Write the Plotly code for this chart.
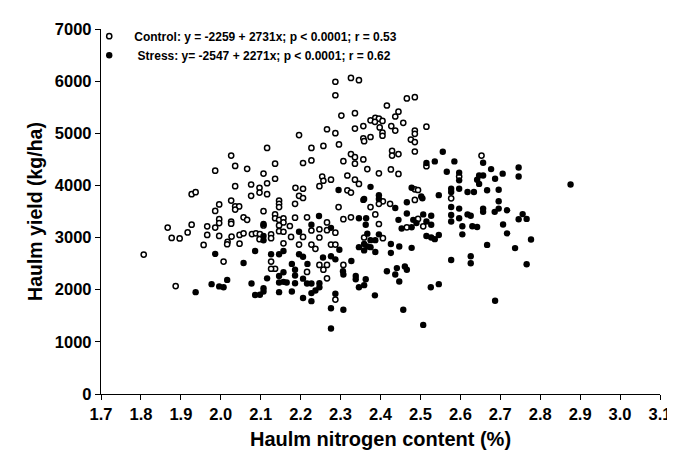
import plotly.graph_objects as go

# Control (open circles): haulm N content (%) and haulm yield (kg/ha)
control_n = [
    1.807, 1.887, 1.877, 1.897, 1.917, 1.966, 1.996, 1.957, 2.017, 2.016, 2.027, 2.047,
    2.057, 2.047, 2.007, 2.078, 2.088, 2.098, 2.097,
    2.026, 2.036, 2.066, 1.986, 2.036, 2.076, 2.076, 1.927, 1.937, 2.026, 1.996, 1.986,
    2.036, 2.046, 2.036, 2.057, 2.066, 1.996, 1.996, 2.026, 2.026, 1.867, 1.927, 1.966, 1.986,
    2.302, 2.266, 2.287, 2.336, 2.357, 2.357, 2.359, 2.196, 2.116, 2.227, 2.257, 2.296,
    2.326, 2.336, 2.336, 2.307, 2.357, 2.136, 2.206, 2.227, 2.367, 2.107, 2.136, 2.116,
    2.097, 2.097, 2.116, 2.254, 2.257, 2.247, 2.276, 2.317, 2.336, 2.346, 2.317, 2.326,
    2.187, 2.206, 2.196, 2.206, 2.186, 2.146, 2.146, 2.146, 2.107, 2.136, 2.136, 2.146,
    2.157, 2.157, 2.186, 2.216, 2.295, 2.307, 2.326, 2.266, 2.107, 2.146, 2.173,
    2.126, 2.126, 2.146, 2.157, 2.176, 2.206, 2.227, 2.247, 2.266, 2.287, 2.247, 2.196,
    2.227, 2.237, 2.276, 2.287, 2.157, 2.126, 2.136, 2.126, 2.216, 2.247, 2.257, 2.266,
    2.307, 2.266, 2.287, 2.359,
    2.287, 2.326, 2.346, 2.287, 2.336,
    2.466, 2.486, 2.416, 2.445, 2.437, 2.375, 2.387, 2.396, 2.405, 2.386, 2.457, 2.427,
    2.437, 2.398, 2.405, 2.405, 2.515, 2.375, 2.486, 2.486, 2.476, 2.486, 2.429, 2.429,
    2.445, 2.486, 2.653,
    2.396, 2.426, 2.445, 2.515, 2.486, 2.494, 2.597, 2.577, 2.486, 2.406, 2.396, 2.375,
    2.424, 2.387, 2.396, 2.494, 2.466, 2.507, 2.406,
]
control_yield = [
    2674, 2070, 2994, 2983, 3099, 3050, 3031, 2859, 2920, 2872, 3020, 3050,
    3081, 2883, 2539, 3068, 3081, 3068, 2970,
    4572, 4374, 4319, 4282, 3986, 4018, 3801, 3833, 3870, 3709, 3635, 3511,
    3598, 3598, 3537, 3389, 3340, 3352, 3278, 3308, 3265, 3191, 3247, 3216, 3191,
    5340, 5077, 5003, 5090, 5138, 4905, 4849, 4966, 4720, 4720, 4757, 4786,
    4602, 4541, 4417, 4465, 4498, 4417, 4430, 4480, 4313, 4227, 4128, 4042,
    3955, 3862, 3833, 4171, 4090, 3986, 4110, 4190, 4110, 4029, 3907, 3862,
    3955, 3936, 3801, 3759, 3648, 3709, 3648, 3585, 3506, 3444, 3371, 3340,
    3371, 3290, 3382, 3389, 3585, 3352, 3389, 3290, 3232, 3232, 3222,
    3062, 2988, 3123, 3112, 3012, 3012, 3136, 3160, 3142, 3093, 3001, 2865,
    2865, 2785, 2865, 2865, 2890, 2539, 2402, 2402, 2341, 2476, 2384, 2476,
    2476, 2218, 1811, 3001,
    5988, 6061, 6019, 5729, 5385,
    5668, 5692, 5533, 5415, 5322, 5248, 5298, 5280, 5237, 5219, 5200, 5138,
    5052, 5113, 5015, 4953, 5127, 4929, 5052, 4990, 4879, 4831, 4664, 4572,
    4602, 4651, 4572,
    4232, 4306, 4221, 4369, 3925, 3912, 4171, 3752, 3722, 3696, 3648, 3585,
    3648, 3444, 3260, 3358, 3197, 3216, 2988,
]

# Stress (filled circles)
stress_n = [
    1.986, 2.086, 2.057, 1.977, 1.996, 2.007, 2.016, 1.937, 2.077, 2.086, 2.098, 2.107,
    2.107, 2.116, 2.107, 2.107,
    2.295, 2.357, 2.246, 2.346, 2.364, 2.227, 2.276, 2.107,
    2.196, 2.126, 2.146, 2.157, 2.196, 2.206, 2.256, 2.276, 2.287, 2.297, 2.346, 2.359,
    2.367, 2.178, 2.217, 2.186, 2.186, 2.157, 2.146, 2.157, 2.165, 2.146, 2.186, 2.206,
    2.216, 2.227, 2.247, 2.247, 2.237, 2.227, 2.306, 2.307, 2.327, 2.338, 2.338, 2.363,
    2.346, 2.359, 2.146, 2.178, 2.206, 2.227, 2.287, 2.276, 2.307, 2.276,
    2.556, 2.536, 2.585, 2.515, 2.566, 2.597, 2.597, 2.642, 2.375, 2.478, 2.502, 2.505,
    2.546, 2.577, 2.577, 2.597, 2.618, 2.634, 2.359, 2.396, 2.396, 2.437, 2.466, 2.577,
    2.597, 2.577, 2.597, 2.618, 2.626, 2.577, 2.605, 2.630, 2.605, 2.363, 2.466, 2.507,
    2.527, 2.445, 2.482, 2.490, 2.515, 2.527, 2.478, 2.453, 2.515, 2.527, 2.536, 2.546,
    2.367, 2.375, 2.387, 2.396, 2.359, 2.375, 2.387, 2.426, 2.426, 2.447, 2.478, 2.416,
    2.441, 2.461, 2.466, 2.577, 2.626, 2.626,
    2.437, 2.447, 2.386, 2.526, 2.546, 2.457, 2.507,
    2.657, 2.677, 2.746, 2.746, 2.706, 2.687, 2.647, 2.657, 2.647, 2.876, 2.667, 2.696,
    2.696, 2.657, 2.657, 2.686, 2.696, 2.717, 2.756, 2.746, 2.766, 2.642, 2.707, 2.717,
    2.667, 2.737, 2.777, 2.766, 2.687,
]
stress_yield = [
    2687, 2742, 2513, 2107, 2064, 2046, 2188, 1953, 2120, 1898, 1903, 1966,
    2027, 2218, 3031, 2950,
    3912, 3722, 3413, 3371, 3371, 3247, 3186, 3260,
    3112, 2680, 2680, 2742, 2680, 2632, 2619, 2643, 2582, 2767, 2816, 2754,
    2828, 2495, 2495, 2384, 2273, 2336, 2262, 2151, 2138, 2138, 2125, 2212,
    2120, 2120, 2125, 2046, 1985, 1935, 2354, 2292, 2550, 2262, 2200, 2200,
    2046, 2088, 1953, 1966, 1842, 1781, 1922, 1645, 1615, 1257,
    4645, 4461, 4461, 4430, 4263, 4245, 4097, 4110, 3973, 3955, 3788, 3752,
    3814, 3936, 3875, 3936, 3875, 3875, 3740, 3814, 3740, 3567, 3678, 3585,
    3556, 3432, 3371, 3444, 3419, 3308, 3216, 3216, 3062, 3247, 3463, 3444,
    3419, 3340, 3340, 3278, 3308, 3247, 3197, 3173, 3031, 3001, 2970, 3050,
    3075, 2951, 2951, 3062, 2877, 2816, 2724, 2877, 2705, 2828, 2803, 2354,
    2415, 2446, 2384, 2569, 2643, 2508,
    2292, 2157, 1892, 2046, 2107, 1615, 1325,
    4435, 4313, 4343, 4171, 4226, 4128, 4190, 4190, 4029, 4018, 3907, 3918,
    3696, 3556, 3493, 3493, 3556, 3524, 3450, 3352, 3358, 3204, 3252, 3081,
    2859, 2798, 2964, 2489, 1787,
]

x_ticks = [1.7, 1.8, 1.9, 2.0, 2.1, 2.2, 2.3, 2.4, 2.5, 2.6, 2.7, 2.8, 2.9, 3.0, 3.1]
y_ticks = [0, 1000, 2000, 3000, 4000, 5000, 6000, 7000]

FONT = "Liberation Sans, Arial, sans-serif"

fig = go.Figure()
fig.add_trace(go.Scatter(
    x=control_n, y=control_yield, mode="markers",
    name="Control: y = -2259 + 2731x; p < 0.0001; r = 0.53",
    marker=dict(symbol="circle", size=5.2, color="white",
                line=dict(color="black", width=1.5)),
))
fig.add_trace(go.Scatter(
    x=stress_n, y=stress_yield, mode="markers",
    name="\u00a0Stress: y= -2547 + 2271x; p < 0.0001; r = 0.62",
    marker=dict(symbol="circle", size=6.4, color="black"),
))

axis_common = dict(
    showline=True, linecolor="black", linewidth=1.3,
    ticks="outside", ticklen=5, tickwidth=1.3, tickcolor="black",
    showgrid=False, zeroline=False,
    tickfont=dict(family=FONT, size=16.5, color="black", weight="bold"),
)

fig.update_xaxes(
    range=[1.7, 3.1], tickvals=x_ticks,
    ticktext=[f"{v:.1f}" for v in x_ticks],
    title=dict(text="Haulm nitrogen content (%)", standoff=10,
               font=dict(family=FONT, size=20, color="black", weight="bold")),
    **axis_common,
)
fig.update_yaxes(
    range=[0, 7000], tickvals=y_ticks,
    ticktext=[str(v) for v in y_ticks],
    title=dict(text="Haulm yield (kg/ha)", standoff=7,
               font=dict(family=FONT, size=19.5, color="black", weight="bold")),
    **axis_common,
)

fig.update_layout(
    width=675, height=451,
    margin=dict(l=93, r=15, t=12, b=60),
    plot_bgcolor="white", paper_bgcolor="white",
    showlegend=True,
    legend=dict(
        x=-0.03, y=1.02, xanchor="left", yanchor="top",
        bgcolor="rgba(0,0,0,0)", borderwidth=0,
        font=dict(family=FONT, size=12, color="black", weight="bold"),
        itemwidth=40, tracegroupgap=0,
    ),
)

fig.write_html("out.html")
